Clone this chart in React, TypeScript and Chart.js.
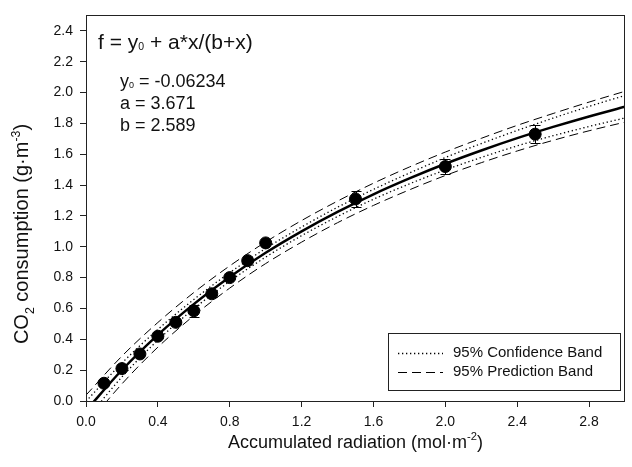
import React, { useEffect, useRef } from 'react';
import { Chart, registerables } from 'chart.js';

Chart.register(...registerables);

// Observed data
const xObs = [0.1, 0.2, 0.3, 0.4, 0.5, 0.6, 0.7, 0.8, 0.9, 1.0, 1.5, 2.0, 2.5];
const yObs = [0.115, 0.21, 0.305, 0.42, 0.51, 0.585, 0.695, 0.8, 0.91, 1.025, 1.31, 1.52, 1.73];
const yErr = [0.01, 0.01, 0.01, 0.01, 0.01, 0.04, 0.02, 0.01, 0.01, 0.01, 0.05, 0.05, 0.06];

// Fitted curve and bands
const xFit = [0, 0.2, 0.4, 0.6, 0.8, 1.0, 1.2, 1.4, 1.6, 1.8, 2.0, 2.2, 2.4, 2.6, 2.8, 3.0];
const yFit = [-0.062, 0.201, 0.429, 0.628, 0.804, 0.961, 1.1, 1.226, 1.34, 1.443, 1.538, 1.624, 1.704, 1.777, 1.845, 1.908];
const confUpper = [-0.002, 0.246, 0.464, 0.658, 0.832, 0.989, 1.128, 1.256, 1.372, 1.478, 1.578, 1.669, 1.754, 1.834, 1.91, 1.981];
const confLower = [-0.122, 0.156, 0.394, 0.598, 0.776, 0.933, 1.072, 1.196, 1.308, 1.408, 1.498, 1.579, 1.654, 1.72, 1.78, 1.835];
const predUpper = [0.038, 0.291, 0.509, 0.703, 0.876, 1.031, 1.17, 1.296, 1.412, 1.517, 1.614, 1.703, 1.787, 1.864, 1.938, 2.008];
const predLower = [-0.162, 0.111, 0.349, 0.553, 0.732, 0.891, 1.03, 1.156, 1.268, 1.369, 1.462, 1.545, 1.621, 1.69, 1.752, 1.808];

const xTicks = [0, 0.4, 0.8, 1.2, 1.6, 2.0, 2.4, 2.8];
const yTicks = [0, 0.2, 0.4, 0.6, 0.8, 1.0, 1.2, 1.4, 1.6, 1.8, 2.0, 2.2, 2.4];

const eqParams = ['-0.06234', '3.671', '2.589'];
const legendLabels = ['95% Confidence Band', '95% Prediction Band'];

const FONT = '"Liberation Sans", Arial, sans-serif';

type Part = [string, 'n' | 'sub' | 'sup' | 'sub0'];

function drawRich(ctx: CanvasRenderingContext2D, parts: Part[], x: number, y: number, size: number, align: 'left' | 'center') {
  const info = parts.map(([t, m]) => {
    let s = size;
    let dy = 0;
    if (m === 'sub') { s = size * 0.62; dy = size * 0.28; }
    if (m === 'sub0') { s = size * 0.5; dy = size * 0.04; }
    if (m === 'sup') { s = size * 0.62; dy = -size * 0.42; }
    ctx.font = `${s}px ${FONT}`;
    return { t, s, dy, w: ctx.measureText(t).width };
  });
  const total = info.reduce((a, b) => a + b.w, 0);
  let cx = align === 'center' ? x - total / 2 : x;
  ctx.textAlign = 'left';
  ctx.textBaseline = 'alphabetic';
  for (const p of info) {
    ctx.font = `${p.s}px ${FONT}`;
    ctx.fillText(p.t, cx, y + p.dy);
    cx += p.w;
  }
}

const decorPlugin = {
  id: 'decor',
  afterDatasetsDraw(chart: any) {
    const { ctx, scales } = chart;
    const xs = scales.x;
    const ys = scales.y;
    ctx.save();
    ctx.strokeStyle = '#000';
    ctx.lineWidth = 1;
    ctx.setLineDash([]);
    for (let i = 0; i < xObs.length; i++) {
      const px = Math.round(xs.getPixelForValue(xObs[i])) + 0.5;
      const pt = Math.round(ys.getPixelForValue(yObs[i] + yErr[i])) + 0.5;
      const pb = Math.round(ys.getPixelForValue(yObs[i] - yErr[i])) + 0.5;
      ctx.beginPath();
      ctx.moveTo(px, pt); ctx.lineTo(px, pb);
      ctx.moveTo(px - 5, pt); ctx.lineTo(px + 5, pt);
      ctx.moveTo(px - 5, pb); ctx.lineTo(px + 5, pb);
      ctx.stroke();
    }
    ctx.restore();
  },
  afterDraw(chart: any) {
    const { ctx, chartArea } = chart;
    ctx.save();
    ctx.strokeStyle = '#222';
    ctx.lineWidth = 1;
    ctx.setLineDash([]);
    ctx.strokeRect(Math.round(chartArea.left) + 0.5, Math.round(chartArea.top) + 0.5,
      Math.round(chartArea.right - chartArea.left) - 1, Math.round(chartArea.bottom - chartArea.top));

    ctx.fillStyle = '#111';
    drawRich(ctx, [['f = y', 'n'], ['0', 'sub0'], [' + a*x/(b+x)', 'n']], 98, 49, 21, 'left');
    drawRich(ctx, [['y', 'n'], ['0', 'sub0'], [' = ' + eqParams[0], 'n']], 120, 87, 18, 'left');
    drawRich(ctx, [['a = ' + eqParams[1], 'n']], 120, 109, 18, 'left');
    drawRich(ctx, [['b = ' + eqParams[2], 'n']], 120, 131, 18, 'left');

    const cxTitle = (chartArea.left + chartArea.right) / 2;
    drawRich(ctx, [['Accumulated radiation (mol\u00b7m', 'n'], ['-2', 'sup'], [')', 'n']], cxTitle, 448, 18, 'center');
    ctx.save();
    ctx.translate(21, 234);
    ctx.rotate(-Math.PI / 2);
    drawRich(ctx, [['CO', 'n'], ['2', 'sub'], [' consumption (g\u00b7m', 'n'], ['-3', 'sup'], [')', 'n']], 0, 7, 20, 'center');
    ctx.restore();

    ctx.strokeStyle = '#222';
    ctx.lineWidth = 1;
    ctx.fillStyle = '#fff';
    ctx.fillRect(388.5, 333.5, 232, 57);
    ctx.strokeRect(388.5, 333.5, 232, 57);
    ctx.strokeStyle = '#000';
    ctx.setLineDash([1.3, 2.7]);
    ctx.lineWidth = 1.3;
    ctx.beginPath(); ctx.moveTo(398, 353.5); ctx.lineTo(443, 353.5); ctx.stroke();
    ctx.setLineDash([9, 5]);
    ctx.lineWidth = 1;
    ctx.beginPath(); ctx.moveTo(398, 372.5); ctx.lineTo(443, 372.5); ctx.stroke();
    ctx.setLineDash([]);
    ctx.fillStyle = '#111';
    ctx.font = `15px ${FONT}`;
    ctx.textAlign = 'left';
    ctx.textBaseline = 'middle';
    ctx.fillText(legendLabels[0], 453, 353);
    ctx.fillText(legendLabels[1], 453, 372);
    ctx.restore();
  },
};

function pts(xsArr: number[], ysArr: number[]) {
  return xsArr.map((x, i) => ({ x, y: ysArr[i] }));
}

export default function App() {
  const ref = useRef<HTMLCanvasElement | null>(null);
  useEffect(() => {
    if (!ref.current) return;
    const lineBase = {
      type: 'line' as const,
      showLine: true,
      pointRadius: 0,
      borderColor: '#000',
      backgroundColor: '#000',
      fill: false,
      cubicInterpolationMode: 'monotone' as const,
    };
    const chart = new Chart(ref.current, {
      type: 'scatter',
      data: {
        datasets: [
          {
            label: 'Observed',
            data: pts(xObs, yObs),
            pointRadius: 6,
            pointHoverRadius: 6,
            backgroundColor: '#000',
            borderColor: '#000',
            order: 0,
          } as any,
          { ...lineBase, label: 'Fit', data: pts(xFit, yFit), borderWidth: 2.5, order: 1 },
          { ...lineBase, label: 'Conf+', data: pts(xFit, confUpper), borderWidth: 1.3, borderDash: [1.3, 2.7], order: 2 },
          { ...lineBase, label: 'Conf-', data: pts(xFit, confLower), borderWidth: 1.3, borderDash: [1.3, 2.7], order: 2 },
          { ...lineBase, label: 'Pred+', data: pts(xFit, predUpper), borderWidth: 1, borderDash: [9, 5], order: 3 },
          { ...lineBase, label: 'Pred-', data: pts(xFit, predLower), borderWidth: 1, borderDash: [9, 5], order: 3 },
        ] as any,
      },
      options: {
        animation: false,
        responsive: false,
        maintainAspectRatio: false,
        events: [],
        layout: { padding: { top: 8, right: 4, left: 0, bottom: 0 } },
        plugins: { legend: { display: false }, tooltip: { enabled: false } },
        scales: {
          x: {
            type: 'linear',
            min: 0,
            max: 3.0,
            afterBuildTicks: (s: any) => { s.ticks = xTicks.map((v) => ({ value: v })); },
            afterFit: (s: any) => { s.height = 66; },
            grid: { display: true, drawOnChartArea: false, drawTicks: true, tickLength: 6, color: '#222' },
            border: { display: false },
            ticks: {
              padding: 7,
              color: '#111',
              font: { family: FONT, size: 14 },
              maxRotation: 0,
              callback: (v: any) => Number(v).toFixed(1),
            },
          },
          y: {
            type: 'linear',
            min: 0,
            max: 2.5,
            afterBuildTicks: (s: any) => { s.ticks = yTicks.map((v) => ({ value: v })); },
            afterFit: (s: any) => { s.width = 86; },
            grid: { display: true, drawOnChartArea: false, drawTicks: true, tickLength: 6, color: '#222' },
            border: { display: false },
            ticks: {
              padding: 7,
              color: '#111',
              font: { family: FONT, size: 14 },
              callback: (v: any) => Number(v).toFixed(1),
            },
          },
        },
      } as any,
      plugins: [decorPlugin],
    });
    return () => chart.destroy();
  }, []);
  return (
    <div style={{ position: 'absolute', left: 0, top: 0, width: 632, height: 467, background: '#fff' }}>
      <canvas ref={ref} width={632} height={467} style={{ display: 'block' }} />
    </div>
  );
}
